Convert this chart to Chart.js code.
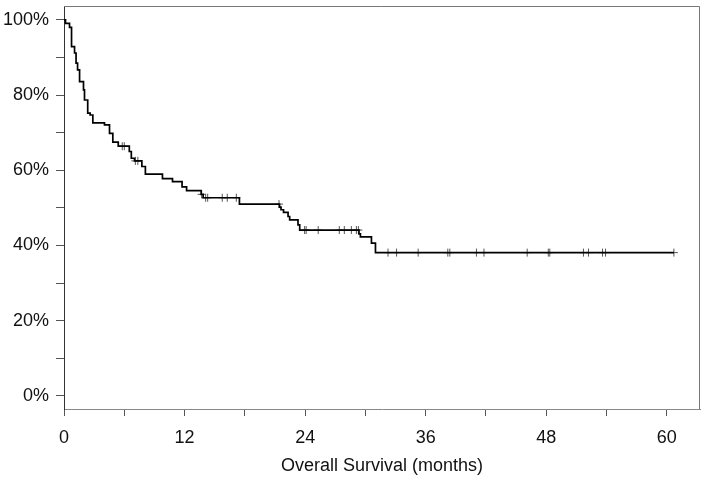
<!DOCTYPE html>
<html>
<head>
<meta charset="utf-8">
<script src="https://cdn.jsdelivr.net/npm/chart.js@4.4.1/dist/chart.umd.min.js"></script>
<style>
  html, body { margin: 0; padding: 0; background: #fff; overflow: hidden; }
  #wrap { width: 702px; height: 477px; overflow: hidden; }
</style>
</head>
<body>
<div id="wrap"><canvas id="kmChart" width="705" height="477"></canvas></div>
<script>
// Kaplan-Meier steps: time (months) and survival (%) after the step
const stepMonths = [0, 0.15, 0.55, 0.75, 1.05, 1.2, 1.35, 1.55, 1.94, 2.04, 2.36, 2.6, 2.87, 4.03, 4.53, 4.86, 5.4, 6.5, 6.7, 7.02, 7.75, 8.1, 9.8, 10.8, 11.75, 12.2, 13.65, 13.85, 17.46, 21.45, 21.6, 21.85, 22.3, 22.46, 23.29, 23.46, 29.36, 29.5, 30.6, 31.0, 60.7];
const stepSurvival = [100, 99.1, 98.0, 92.9, 91.2, 88.5, 86.7, 83.6, 81.4, 78.7, 75.2, 74.7, 72.6, 72.1, 69.8, 67.5, 66.4, 65.0, 63.2, 62.5, 61.0, 59.0, 57.8, 57.0, 55.6, 54.6, 53.6, 52.7, 51.0, 50.2, 49.5, 48.8, 47.7, 46.8, 45.5, 44.1, 43.1, 42.3, 40.6, 38.1, 38.1];

// censored observations (months)
const censorMonths = [5.8, 6.0, 7.1, 7.35, 13.7, 14.1, 14.3, 15.75, 16.25, 17.15, 21.4, 23.95, 24.1, 25.3, 27.4, 27.9, 28.6, 29.1, 29.3, 32.25, 33.1, 35.25, 38.2, 38.4, 41.05, 41.8, 46.1, 48.2, 48.35, 51.7, 52.2, 53.6, 53.9, 60.7];

const xTickValues = [0, 6, 12, 18, 24, 30, 36, 42, 48, 54, 60];
const xTickLabels = ['0', '', '12', '', '24', '', '36', '', '48', '', '60'];
const yTickValues = [0, 10, 20, 30, 40, 50, 60, 70, 80, 90, 100];
const yTickLabels = ['0%', '', '20%', '', '40%', '', '60%', '', '80%', '', '100%'];

function survivalAt(t) {
    let s = stepSurvival[0];
    for (let i = 0; i < stepMonths.length; i++) {
        if (stepMonths[i] <= t) s = stepSurvival[i];
    }
    return s;
}

const curve = stepMonths.map((m, i) => ({ x: m, y: stepSurvival[i] }));
const censored = censorMonths.map(m => ({ x: m, y: survivalAt(m) }));

// frame around plot area
const boxPlugin = {
    id: 'box',
    afterDraw(chart) {
        const a = chart.chartArea;
        const c = chart.ctx;
        c.save();
        c.strokeStyle = '#777';
        c.lineWidth = 1;
        c.beginPath();
        c.moveTo(a.left, a.top + 0.5);
        c.lineTo(a.right - 0.5, a.top + 0.5);
        c.lineTo(a.right - 0.5, a.bottom);
        c.stroke();
        c.restore();
    }
};

const fontBase = { family: "'Liberation Sans', Arial, sans-serif", size: 18 };

new Chart(document.getElementById('kmChart'), {
    type: 'line',
    data: {
        datasets: [{
            data: curve,
            stepped: 'before',
            borderColor: '#000',
            borderWidth: 1.7,
            pointRadius: 0,
            fill: false
        }, {
            data: censored,
            showLine: false,
            pointStyle: 'cross',
            pointRadius: 4,
            borderColor: '#555',
            borderWidth: 1
        }]
    },
    options: {
        responsive: false,
        animation: false,
        layout: { padding: { top: 6, right: 0, left: 0, bottom: 0 } },
        plugins: {
            legend: { display: false },
            tooltip: { enabled: false }
        },
        scales: {
            x: {
                type: 'linear',
                min: 0,
                max: 63.3,
                afterFit(scale) {
                    scale.height = 68;
                    scale.paddingLeft = 0;
                    scale.paddingRight = 0;
                },
                afterBuildTicks(scale) { scale.ticks = xTickValues.map(v => ({ value: v })); },
                border: { color: '#888', width: 1 },
                grid: { drawOnChartArea: false, drawTicks: true, tickLength: 7, color: '#555' },
                ticks: {
                    color: '#111',
                    font: fontBase,
                    padding: 11,
                    maxRotation: 0,
                    autoSkip: false,
                    callback: (v) => xTickLabels[xTickValues.indexOf(v)]
                },
                title: {
                    display: true,
                    text: 'Overall Survival (months)',
                    color: '#111',
                    font: fontBase,
                    padding: { top: 4, bottom: 0 }
                }
            },
            y: {
                type: 'linear',
                min: -3.5,
                max: 103.7,
                afterFit(scale) {
                    scale.width = 64;
                    scale.paddingTop = 0;
                    scale.paddingBottom = 0;
                },
                afterBuildTicks(scale) { scale.ticks = yTickValues.map(v => ({ value: v })); },
                border: { color: '#333', width: 1 },
                grid: { drawOnChartArea: false, drawTicks: true, tickLength: 8, color: '#555' },
                ticks: {
                    color: '#111',
                    font: fontBase,
                    padding: 7,
                    autoSkip: false,
                    callback: (v) => yTickLabels[yTickValues.indexOf(v)]
                }
            }
        }
    },
    plugins: [boxPlugin]
});
</script>
</body>
</html>
